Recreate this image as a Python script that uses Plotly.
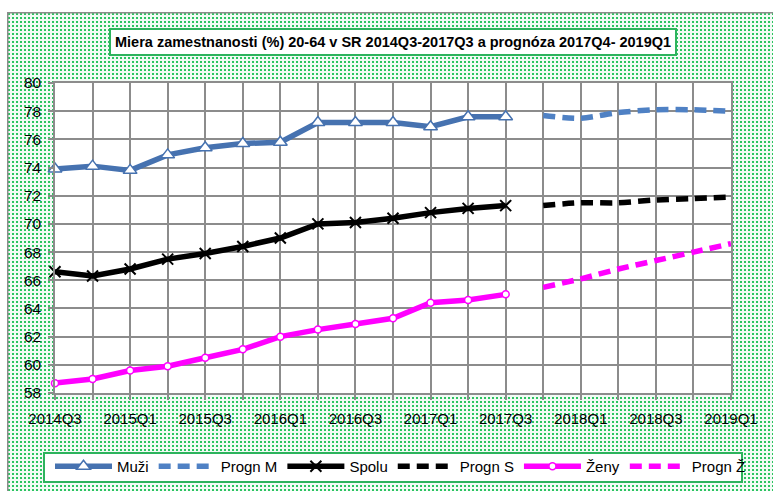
import base64
import plotly.graph_objects as go

# ---------------- data ----------------
quarters = ["2014Q3", "2014Q4", "2015Q1", "2015Q2", "2015Q3", "2015Q4",
            "2016Q1", "2016Q2", "2016Q3", "2016Q4", "2017Q1", "2017Q2",
            "2017Q3", "2017Q4", "2018Q1", "2018Q2", "2018Q3", "2018Q4",
            "2019Q1"]
actual_q = quarters[:13]
forecast_q = quarters[13:]

muzi = [73.9, 74.1, 73.8, 74.9, 75.4, 75.7, 75.8, 77.2, 77.2, 77.2, 76.9, 77.6, 77.6]
progn_m = [77.7, 77.5, 77.9, 78.1, 78.1, 78.0]
spolu = [66.6, 66.3, 66.8, 67.5, 67.9, 68.4, 69.0, 70.0, 70.1, 70.4, 70.8, 71.1, 71.3]
progn_s = [71.3, 71.5, 71.5, 71.7, 71.8, 71.9]
zeny = [58.7, 59.0, 59.6, 59.9, 60.5, 61.1, 62.0, 62.5, 62.9, 63.3, 64.4, 64.6, 65.0]
progn_z = [65.5, 66.1, 66.8, 67.4, 68.0, 68.6]

title_text = "Miera zamestnanosti (%) 20-64 v SR 2014Q3-2017Q3 a prognóza 2017Q4- 2019Q1"

# ---------------- layout geometry ----------------
W, H = 773, 491
ML, MR, MT, MB = 55, 42, 83, 98
PW, PH = W - ML - MR, H - MT - MB


def px_x(px):
    return (px - ML) / PW


def px_y(py):
    return (H - MB - py) / PH


FONT = "Liberation Sans, Arial, sans-serif"
GRID = "#8c8c8c"
GREEN = "#2db35d"
BLUE = "#4672b0"
BLUE_L = "#4f81c4"
MAG = "#ff00ff"

idx = {q: i for i, q in enumerate(quarters)}
xa = [idx[q] for q in actual_q]
xf = [idx[q] for q in forecast_q]

# dotted green background (chart area) as an svg pattern image
BX0, BY0 = 7, 12
bw_, bh_ = W - BX0, H - BY0
svg = f'''<svg xmlns="http://www.w3.org/2000/svg" width="{bw_}" height="{bh_}" viewBox="0 0 {bw_} {bh_}">
<defs><pattern id="p" width="4" height="4" patternUnits="userSpaceOnUse">
<rect width="4" height="4" fill="#f2fbf5"/>
<rect x="1" y="1" width="2" height="2" fill="#2cc461"/></pattern></defs>
<rect width="{bw_}" height="{bh_}" fill="url(#p)"/>
<path d="M0.75,{bh_} V0.75 H{bw_}" stroke="#8c8c8c" stroke-width="1.5" fill="none"/>
<rect x="{ML - BX0}" y="{MT - BY0}" width="{PW}" height="{PH}" fill="#ffffff"/>
</svg>'''
src = "data:image/svg+xml;base64," + base64.b64encode(svg.encode("utf-8")).decode()

fig = go.Figure()

fig.add_trace(go.Scatter(
    x=xa, y=muzi, name="Muži", mode="lines+markers", cliponaxis=False,
    line=dict(color=BLUE, width=5.5),
    marker=dict(symbol="triangle-up", size=12, color="white",
                line=dict(color=BLUE, width=1.5))))
fig.add_trace(go.Scatter(
    x=xf, y=progn_m, name="Progn M", mode="lines",
    line=dict(color=BLUE_L, width=5.5, dash="12px,7px", shape="spline", smoothing=0.8)))
fig.add_trace(go.Scatter(
    x=xa, y=spolu, name="Spolu", mode="lines+markers", cliponaxis=False,
    line=dict(color="black", width=5.5),
    marker=dict(symbol="x-thin", size=11, color="black",
                line=dict(color="black", width=2))))
fig.add_trace(go.Scatter(
    x=xf, y=progn_s, name="Progn S", mode="lines",
    line=dict(color="black", width=5.5, dash="12px,7px", shape="spline", smoothing=0.8)))
fig.add_trace(go.Scatter(
    x=xa, y=zeny, name="Ženy", mode="lines+markers", cliponaxis=False,
    line=dict(color=MAG, width=5.5),
    marker=dict(symbol="circle", size=7, color="white",
                line=dict(color=MAG, width=1.5))))
fig.add_trace(go.Scatter(
    x=xf, y=progn_z, name="Progn Ž", mode="lines",
    line=dict(color=MAG, width=5.5, dash="12px,7px", shape="spline", smoothing=0.8)))

fig.update_layout(
    width=W, height=H,
    margin=dict(l=ML, r=MR, t=MT, b=MB, pad=0, autoexpand=False),
    paper_bgcolor="white", plot_bgcolor="white",
    font=dict(family=FONT, size=15, color="black"),
    showlegend=True,
    legend=dict(orientation="h", x=px_x(50), y=px_y(450), xanchor="left", yanchor="top",
                bgcolor="rgba(0,0,0,0)", borderwidth=0, itemwidth=57,
                font=dict(family=FONT, size=15, color="black"), tracegroupgap=0),
    images=[dict(source=src, xref="paper", yref="paper",
                 x=px_x(BX0), y=px_y(BY0), sizex=bw_ / PW, sizey=bh_ / PH,
                 xanchor="left", yanchor="top", sizing="stretch", layer="below")],
    shapes=[dict(type="rect", xref="paper", yref="paper", layer="below",
                 x0=px_x(44), x1=px_x(742), y0=px_y(482), y1=px_y(453),
                 fillcolor="white", line=dict(color=GREEN, width=2))],
    annotations=[dict(text=title_text, xref="paper", yref="paper",
                      x=px_x(393), y=px_y(42), xanchor="center", yanchor="middle",
                      showarrow=False, bgcolor="white", bordercolor=GREEN,
                      borderwidth=2, borderpad=4,
                      font=dict(family=FONT, size=14.5, color="black", weight="bold"))],
)

fig.update_xaxes(
    range=[0, len(quarters) - 1], tickmode="array", automargin=False,
    tickvals=list(range(0, len(quarters), 2)), ticktext=quarters[::2],
    showgrid=True, gridcolor=GRID, gridwidth=1.5,
    showline=True, mirror=True, linecolor=GRID, linewidth=1.5,
    ticks="outside", ticklen=5, tickcolor=GRID, tickwidth=1.5,
    ticklabelstandoff=6, zeroline=False,
    minor=dict(dtick=1, showgrid=True, gridcolor=GRID, gridwidth=1.5,
               ticks="outside", ticklen=5, tickcolor=GRID, tickwidth=1.5),
    tickfont=dict(family=FONT, size=15),
)
fig.update_yaxes(
    range=[58, 80], dtick=2, tick0=58, automargin=False,
    showgrid=True, gridcolor=GRID, gridwidth=1.5,
    showline=True, mirror=True, linecolor=GRID, linewidth=1.5,
    ticks="outside", ticklen=5, tickcolor=GRID, tickwidth=1.5,
    ticklabelstandoff=4, zeroline=False,
    tickfont=dict(family=FONT, size=15.5),
)

fig.write_html("out.html", config={"displayModeBar": False},
               post_script="document.body.style.margin='0';")
